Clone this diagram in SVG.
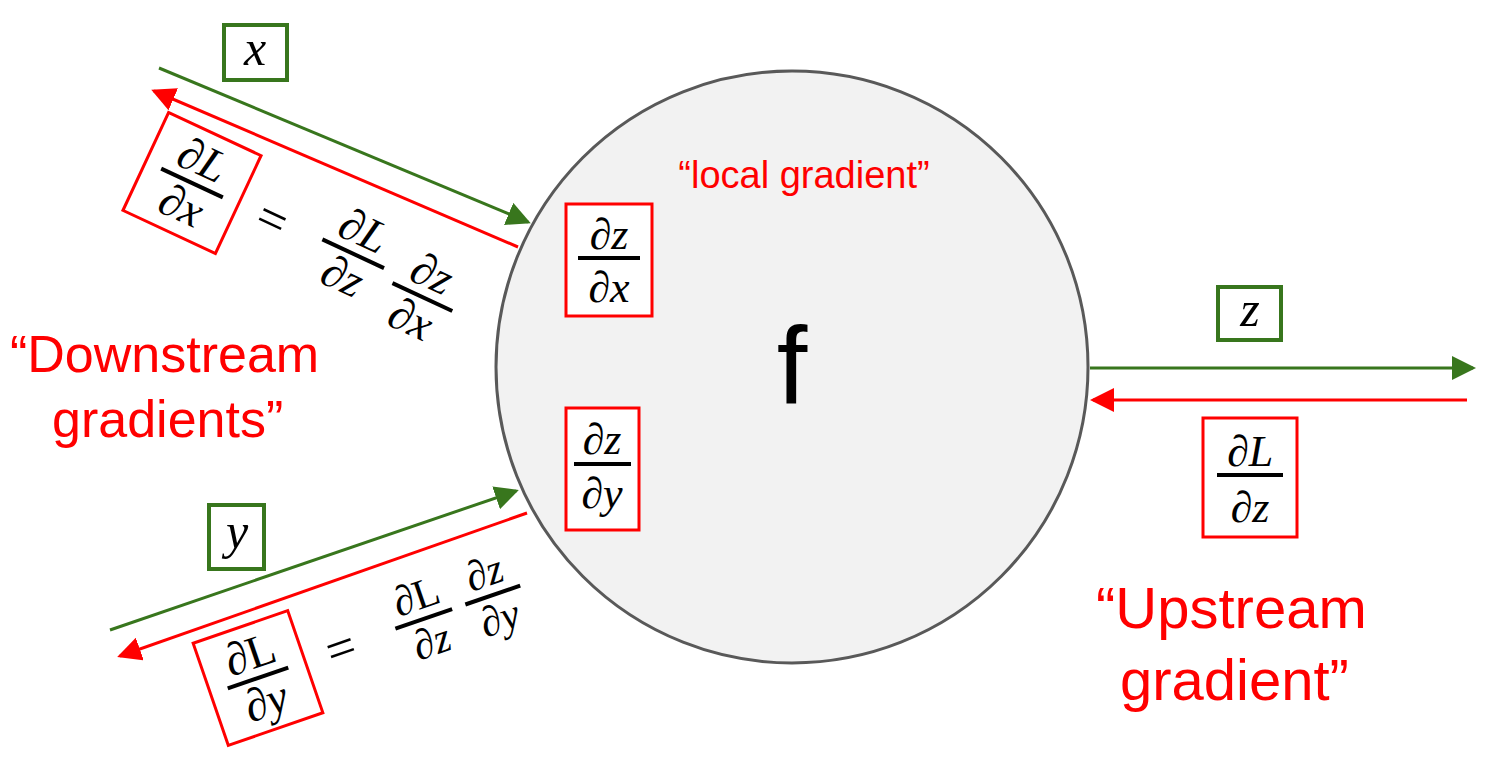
<svg xmlns="http://www.w3.org/2000/svg" width="1511" height="758" viewBox="0 0 1511 758">
<style>
.m{font-family:"Liberation Serif","DejaVu Serif",serif;font-style:italic;fill:#000;text-anchor:middle}
.mn{font-family:"Liberation Serif","DejaVu Serif",serif;fill:#000;text-anchor:middle}
.bar{stroke:#000;stroke-width:4}
.rb{fill:#fff;stroke:#f00;stroke-width:3}
.gb{fill:#fff;stroke:#38761d;stroke-width:4}
.lbl{font-family:"Liberation Sans",Arial,sans-serif;fill:#f00}
.g{stroke:#38761d;stroke-width:3;fill:none}
.r{stroke:#f00;stroke-width:3;fill:none}
</style>
<defs>
<marker id="ag" markerWidth="8" markerHeight="8" refX="7" refY="4" orient="auto" markerUnits="strokeWidth"><path d="M0,0 L8,4 L0,8 z" fill="#38761d"/></marker>
<marker id="ar" markerWidth="8" markerHeight="8" refX="7" refY="4" orient="auto" markerUnits="strokeWidth"><path d="M0,0 L8,4 L0,8 z" fill="#f00"/></marker>
</defs>
<rect width="1511" height="758" fill="#fff"/>
<g id="node-f">
<circle cx="792" cy="367" r="296" fill="#f2f2f2" stroke="#595959" stroke-width="3"/>
<text x="792" y="403" font-family="Liberation Sans,Arial,sans-serif" font-size="110" text-anchor="middle">f</text>
<text class="lbl" x="804" y="188" font-size="38" text-anchor="middle">“local gradient”</text>
</g>
<g id="local-dzdx">
<rect class="rb" x="566" y="204" width="86" height="112"/>
<text class="m" x="609" y="249" font-size="44">∂z</text><line class="bar" x1="578" y1="258" x2="640" y2="258"/><text class="m" x="609" y="302" font-size="44">∂x</text>
</g>
<g id="local-dzdy">
<rect class="rb" x="566" y="408" width="73" height="122"/>
<text class="m" x="602" y="454" font-size="44">∂z</text><line class="bar" x1="574" y1="464" x2="631" y2="464"/><text class="m" x="602" y="508" font-size="44">∂y</text>
</g>
<g id="connectors">
<line class="g" x1="159" y1="68" x2="528" y2="222" marker-end="url(#ag)"/>
<line class="r" x1="518" y1="247" x2="154" y2="91" marker-end="url(#ar)"/>
<line class="g" x1="110" y1="630" x2="516" y2="491" marker-end="url(#ag)"/>
<line class="r" x1="527" y1="513" x2="120" y2="656" marker-end="url(#ar)"/>
<line class="g" x1="1090" y1="368" x2="1473" y2="368" marker-end="url(#ag)"/>
<line class="r" x1="1467" y1="400" x2="1093" y2="400" marker-end="url(#ar)"/>
</g>
<g id="input-x">
<rect class="gb" x="224" y="25" width="63" height="55"/>
<text class="m" x="255" y="65" font-size="50">x</text>
</g>
<g id="input-y">
<rect class="gb" x="209" y="505" width="55" height="64"/>
<text class="m" x="237" y="548" font-size="50">y</text>
</g>
<g id="output-z">
<rect class="gb" x="1218" y="287" width="63" height="53"/>
<text class="m" x="1250" y="326" font-size="50">z</text>
</g>
<g id="upstream-grad">
<rect class="rb" x="1203" y="418" width="94" height="119"/>
<text class="mn" x="1250" y="466" font-size="44">∂<tspan font-style="italic">L</tspan></text><line class="bar" x1="1217" y1="475" x2="1283" y2="475"/><text class="m" x="1250" y="522" font-size="44">∂z</text>
</g>
<g id="downstream-x" transform="translate(192,183) rotate(25)">
<rect class="rb" x="-51" y="-54" width="102" height="108"/>
<text class="mn" x="0" y="-10" font-size="46">∂<tspan font-style="italic">L</tspan></text><line class="bar" x1="-34" y1="0" x2="34" y2="0"/><text class="m" x="0" y="40" font-size="46">∂x</text>
<text class="mn" x="88" y="16" font-size="52">=</text>
<text class="mn" x="176" y="-14" font-size="46">∂<tspan font-style="italic">L</tspan></text><line class="bar" x1="142" y1="-4" x2="210" y2="-4"/><text class="m" x="176" y="36" font-size="46">∂z</text>
<text class="m" x="256" y="-4" font-size="46">∂z</text><line class="bar" x1="224" y1="6" x2="290" y2="6"/><text class="m" x="256" y="46" font-size="46">∂x</text>
</g>
<g id="downstream-y" transform="translate(258,678) rotate(-19)">
<rect class="rb" x="-50" y="-54" width="100" height="108"/>
<text class="mn" x="0" y="-10" font-size="46">∂L</text><line class="bar" x1="-32" y1="0" x2="32" y2="0"/><text class="m" x="0" y="40" font-size="46">∂y</text>
<text class="mn" x="88" y="16" font-size="52">=</text>
<text class="mn" x="176" y="-12" font-size="42">∂L</text><line class="bar" x1="146" y1="-2" x2="206" y2="-2"/><text class="m" x="176" y="36" font-size="42">∂z</text>
<text class="m" x="248" y="-12" font-size="42">∂z</text><line class="bar" x1="220" y1="-2" x2="278" y2="-2"/><text class="m" x="248" y="36" font-size="42">∂y</text>
</g>
<g id="label-downstream">
<text class="lbl" x="10" y="372" font-size="52">“Downstream</text>
<text class="lbl" x="52" y="437" font-size="52">gradients”</text>
</g>
<g id="label-upstream">
<text class="lbl" x="1096" y="628" font-size="58">“Upstream</text>
<text class="lbl" x="1120" y="700" font-size="58">gradient”</text>
</g>
</svg>
